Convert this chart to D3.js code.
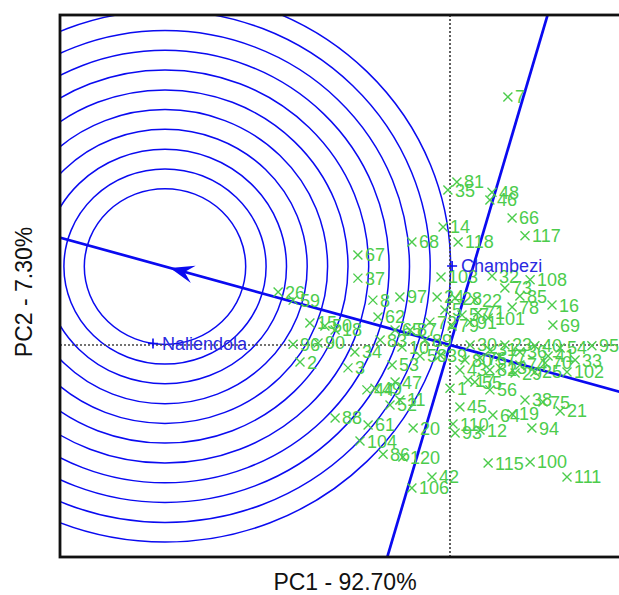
<!DOCTYPE html>
<html>
<head>
<meta charset="utf-8">
<script src="https://cdn.jsdelivr.net/npm/d3@7"></script>
<style>
  body { margin: 0; background: #fff; }
  svg { display: block; font-family: "Liberation Sans", Arial, sans-serif; }
</style>
</head>
<body>
<div id="viz"></div>
<script>
// genotype scores (PC1, PC2)
const genoLabels = ['7','81','35','48','46','66','117','14','68','118','67','37','103','32','108','73','85','78','16','69',
  '26','59','8','97','24','28','22','5','57','91','71','101','79','15','50','62','96','90','2','3',
  '34','10','58','53','39','47','44','49','52','11','88','61','20','104','86','120','42','106','1','56',
  '55','43','29','13','45','38','75','64','19','21','94','110','93','12','115','100','111','102','33','95',
  '30','31','23','36','40','41','54','70','74','76','77','80','82','17','25','18','83','87','89','72','65'];
const genoPC1 = [1.93,0.23,-0.07,1.40,1.33,2.07,2.50,-0.23,-1.27,0.27,-3.07,-3.07,-0.30,1.40,2.67,1.83,2.33,2.07,3.40,3.43,
  -5.73,-5.23,-2.57,-1.67,-0.43,0.17,0.83,-0.17,0.40,0.67,0.93,1.27,0.07,-4.67,-4.17,-2.40,-5.23,-4.40,-5.00,-3.40,
  -3.17,-1.60,-1.00,-1.93,-0.33,-1.83,-2.77,-2.50,-2.00,-1.67,-3.83,-2.73,-1.23,-3.00,-2.23,-1.57,-0.60,-1.27,0.00,1.33,
  0.83,0.33,2.17,1.67,0.33,2.50,3.10,1.43,2.07,3.67,2.73,0.10,0.17,1.00,1.27,2.67,3.90,3.90,4.17,4.73,
  0.67,1.33,1.83,2.33,2.83,3.27,3.67,3.17,2.33,1.00,1.67,0.50,1.33,0.60,2.83,-3.83,-2.33,-1.33,-0.83,-0.67,-1.83];
const genoPC2 = [8.57,5.63,5.35,5.28,5.01,4.39,3.77,4.08,3.56,3.56,3.11,2.31,2.35,2.38,2.25,1.97,1.69,1.31,1.38,0.69,
  1.83,1.55,1.55,1.66,1.66,1.62,1.55,1.21,1.04,0.79,1.11,0.93,0.66,0.76,0.66,0.97,0.03,0.07,-0.59,-0.79,
  -0.24,-0.07,-0.38,-0.69,-0.35,-1.28,-1.55,-1.49,-2.07,-1.90,-2.52,-2.76,-2.87,-3.32,-3.77,-3.87,-4.56,-4.94,-1.49,-1.55,
  -1.28,-0.86,-0.97,-0.79,-2.14,-1.90,-1.97,-2.42,-2.38,-2.28,-2.87,-2.73,-3.04,-2.94,-4.08,-4.04,-4.56,-0.93,-0.52,-0.03,
  0.00,-0.17,0.00,-0.24,-0.03,-0.38,-0.10,-0.62,-0.69,-0.45,-0.41,-0.52,-0.86,-1.21,-0.93,0.52,0.17,0.52,0.17,0.79,0.52];

// environment scores
const envNames = ['Chambezi', 'Naliendola'];
const envPC1 = [0.07, -9.9];
const envPC2 = [2.73, 0.05];

// average environment axis: ideal point and concentric rings
const idealPC1 = -9.5;
const idealPC2 = 2.711;
const arrowPC1 = -9.33;
const arrowPC2 = 2.66;
const ringRadii = [2.69, 3.37, 4.05, 4.74, 5.42, 6.10, 6.79, 7.47, 8.15, 8.84, 9.52];

const xTitle = 'PC1 - 92.70%';
const yTitle = 'PC2 - 7.30%';

const W = 619, H = 595;
const plot = { left: 60, top: 15, right: 624, bottom: 557 };

const svg = d3.select('#viz').append('svg')
  .attr('width', W).attr('height', H);

const x = d3.scaleLinear().domain([-13, 5.8]).range([plot.left, plot.right]);
const y = d3.scaleLinear().domain([-7.323, 11.399]).range([plot.bottom, plot.top]);

svg.append('clipPath').attr('id', 'clip')
  .append('rect')
  .attr('x', plot.left).attr('y', plot.top)
  .attr('width', plot.right - plot.left).attr('height', plot.bottom - plot.top);

const g = svg.append('g').attr('clip-path', 'url(#clip)');

const blue = '#0a0af0';
const green = '#4ccc4c';

// rings
g.selectAll('ellipse.ring')
  .data(ringRadii)
  .join('ellipse')
  .attr('class', 'ring')
  .attr('cx', x(idealPC1))
  .attr('cy', y(idealPC2))
  .attr('rx', r => x(r) - x(0))
  .attr('ry', r => y(0) - y(r))
  .attr('fill', 'none')
  .attr('stroke', blue)
  .attr('stroke-width', 1.5);

// dotted axes through origin
g.append('line')
  .attr('x1', x(0)).attr('x2', x(0))
  .attr('y1', plot.top).attr('y2', plot.bottom)
  .attr('stroke', '#444').attr('stroke-width', 1.7)
  .attr('stroke-dasharray', '2,2');
g.append('line')
  .attr('x1', plot.left).attr('x2', plot.right)
  .attr('y1', y(0)).attr('y2', y(0))
  .attr('stroke', '#444').attr('stroke-width', 1.7)
  .attr('stroke-dasharray', '2,2');

// AEA abscissa and ordinate
const t = 3;
g.append('line')
  .attr('x1', x(idealPC1 * t)).attr('y1', y(idealPC2 * t))
  .attr('x2', x(-idealPC1 * t)).attr('y2', y(-idealPC2 * t))
  .attr('stroke', blue).attr('stroke-width', 2.7);
g.append('line')
  .attr('x1', x(idealPC2 * t)).attr('y1', y(-idealPC1 * t))
  .attr('x2', x(-idealPC2 * t)).attr('y2', y(idealPC1 * t))
  .attr('stroke', blue).attr('stroke-width', 2.7);

// arrow head on AEA
const ax = x(arrowPC1), ay = y(arrowPC2);
const dirx = x(0) - ax, diry = y(0) - ay;
const len = Math.hypot(dirx, diry);
const ux = dirx / len, uy = diry / len;
const aL = 24, aW = 9, aN = 15;
g.append('path')
  .attr('d', `M${ax},${ay}` +
    `L${ax + ux * aL - uy * aW},${ay + uy * aL + ux * aW}` +
    `L${ax + ux * aN},${ay + uy * aN}` +
    `L${ax + ux * aL + uy * aW},${ay + uy * aL - ux * aW}Z`)
  .attr('fill', blue);

// genotypes
const geno = genoLabels.map((d, i) => ({ label: d, px: x(genoPC1[i]), py: y(genoPC2[i]) }));
const s = 4.5;
const gg = g.append('g');
gg.selectAll('path.geno')
  .data(geno)
  .join('path')
  .attr('class', 'geno')
  .attr('d', d => `M${d.px - s},${d.py - s}L${d.px + s},${d.py + s}M${d.px - s},${d.py + s}L${d.px + s},${d.py - s}`)
  .attr('stroke', green).attr('stroke-width', 1.4).attr('fill', 'none');
gg.selectAll('text.geno')
  .data(geno)
  .join('text')
  .attr('class', 'geno')
  .attr('x', d => d.px + 7)
  .attr('y', d => d.py)
  .attr('dy', '0.36em')
  .attr('fill', green)
  .style('font-size', '18px')
  .text(d => d.label);

// environments
envNames.forEach((name, i) => {
  const px = x(envPC1[i]), py = y(envPC2[i]);
  g.append('path')
    .attr('d', `M${px - 5},${py}L${px + 5},${py}M${px},${py - 5}L${px},${py + 5}`)
    .attr('stroke', blue).attr('stroke-width', 1.6);
  g.append('text')
    .attr('x', px + 9).attr('y', py)
    .attr('dy', '0.36em')
    .attr('fill', '#2a2ae0')
    .style('font-size', '18px')
    .text(name);
});

// frame
svg.append('rect')
  .attr('x', plot.left).attr('y', plot.top)
  .attr('width', plot.right - plot.left).attr('height', plot.bottom - plot.top)
  .attr('fill', 'none').attr('stroke', '#111').attr('stroke-width', 2.8);

// axis titles
svg.append('text')
  .attr('x', 345).attr('y', 590)
  .attr('text-anchor', 'middle')
  .style('font-size', '23px')
  .attr('fill', '#111')
  .text(xTitle);
svg.append('text')
  .attr('transform', 'translate(32,292) rotate(-90)')
  .attr('text-anchor', 'middle')
  .style('font-size', '23px')
  .attr('fill', '#111')
  .text(yTitle);
</script>
</body>
</html>
